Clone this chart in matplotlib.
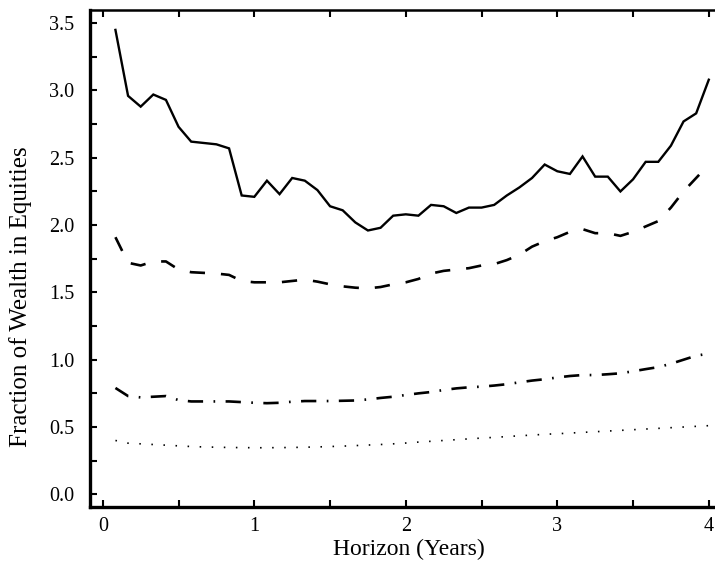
import matplotlib
matplotlib.use("Agg")
import matplotlib.pyplot as plt
from matplotlib.ticker import MultipleLocator, FormatStrFormatter

months = list(range(1, 49))
horizon = [m / 12 for m in months]

solid = [3.45, 2.96, 2.88, 2.97, 2.93, 2.73, 2.62, 2.61, 2.60, 2.57, 2.22, 2.21,
         2.33, 2.23, 2.35, 2.33, 2.26, 2.14, 2.11, 2.02, 1.96, 1.98, 2.07, 2.08,
         2.07, 2.15, 2.14, 2.09, 2.13, 2.13, 2.15, 2.22, 2.28, 2.35, 2.45, 2.40,
         2.38, 2.51, 2.36, 2.36, 2.25, 2.34, 2.47, 2.47, 2.59, 2.77, 2.83, 3.08]

dashed = [1.91, 1.72, 1.70, 1.73, 1.73, 1.67, 1.65, 1.645, 1.64, 1.63, 1.585, 1.575,
          1.575, 1.575, 1.585, 1.595, 1.58, 1.56, 1.545, 1.535, 1.53, 1.54, 1.56, 1.575,
          1.60, 1.64, 1.66, 1.67, 1.68, 1.70, 1.71, 1.74, 1.78, 1.84, 1.88, 1.91,
          1.95, 1.97, 1.94, 1.94, 1.92, 1.95, 1.99, 2.03, 2.13, 2.25, 2.35, 2.45]

dashdot = [0.79, 0.73, 0.72, 0.725, 0.73, 0.70, 0.69, 0.69, 0.69, 0.69, 0.685, 0.68,
           0.677, 0.68, 0.688, 0.693, 0.693, 0.693, 0.695, 0.697, 0.705, 0.716, 0.725, 0.738,
           0.75, 0.76, 0.775, 0.787, 0.795, 0.80, 0.808, 0.818, 0.832, 0.845, 0.855, 0.868,
           0.879, 0.886, 0.886, 0.892, 0.899, 0.914, 0.93, 0.945, 0.97, 1.00, 1.03, 1.045]

dotted = [0.40, 0.38, 0.375, 0.37, 0.365, 0.36, 0.355, 0.352, 0.35, 0.348, 0.347, 0.346,
          0.346, 0.347, 0.348, 0.350, 0.352, 0.355, 0.358, 0.362, 0.366, 0.370, 0.375, 0.381,
          0.388, 0.394, 0.40, 0.406, 0.412, 0.418, 0.423, 0.429, 0.435, 0.44, 0.446, 0.45,
          0.455, 0.46, 0.465, 0.47, 0.475, 0.48, 0.485, 0.49, 0.495, 0.50, 0.505, 0.51]

plt.rcParams['font.family'] = ['Liberation Serif', 'DejaVu Serif']
plt.rcParams['lines.scale_dashes'] = False

fig = plt.figure(figsize=(7.15, 5.61), dpi=100)
ax = fig.add_axes([0.126, 0.0963, 0.874, 0.8859])

ax.plot(horizon, solid, color='black', lw=1.7, solid_joinstyle='miter')
ax.plot(horizon, dashed, color='black', lw=1.9, dashes=[11, 11.5])
ax.plot(horizon, dashdot, color='black', lw=1.9, dashes=[11, 7.5, 1.2, 7.5])
ax.plot(horizon, dotted, color='black', lw=1.2, dashes=[1.1, 7.6])

ax.set_xlim(-0.084, 4.041)
ax.set_ylim(-0.094, 3.598)

ax.xaxis.set_major_locator(MultipleLocator(1))
ax.xaxis.set_minor_locator(MultipleLocator(0.5))
ax.yaxis.set_major_locator(MultipleLocator(0.5))
ax.yaxis.set_minor_locator(MultipleLocator(0.25))
ax.yaxis.set_major_formatter(FormatStrFormatter('%.1f'))

ax.tick_params(which='both', direction='in', top=True, right=False,
               length=5, width=1.5, labelsize=14.5)
ax.tick_params(axis='y', pad=11.5)
ax.tick_params(axis='x', pad=7)

for s in ['left', 'bottom']:
    ax.spines[s].set_linewidth(2.4)
ax.spines['top'].set_linewidth(1.8)
ax.spines['right'].set_visible(False)

ax.set_xlabel('Horizon (Years)', fontsize=17)
ax.xaxis.set_label_coords(0.5096, -0.064)
ax.set_ylabel('Fraction of Wealth in Equities', fontsize=18)
ax.yaxis.set_label_coords(-0.093, 0.4235)

fig.savefig('out.png', dpi=100)
